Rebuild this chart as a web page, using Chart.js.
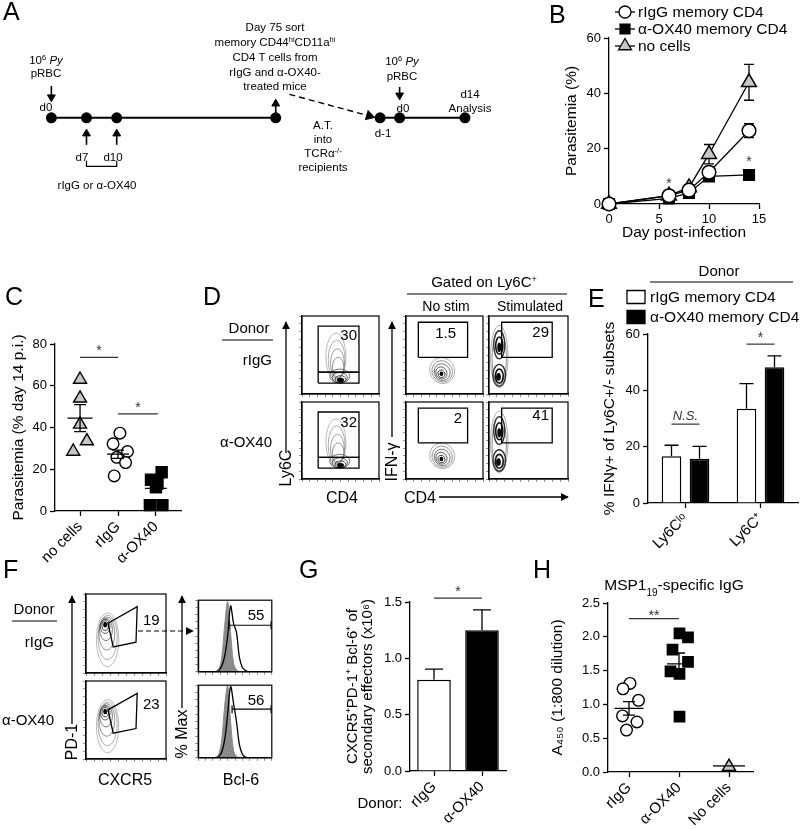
<!DOCTYPE html>
<html lang="en">
<head>
<meta charset="UTF-8">
<title>Memory CD4 T cells from α-OX40-treated mice</title>
<script src="https://cdn.jsdelivr.net/npm/chart.js"></script>
<style>
  html, body { margin: 0; padding: 0; background: #fff; }
  #fig { position: relative; width: 800px; height: 830px; overflow: hidden; background: #fff; }
  #fig canvas { position: absolute; }
  #overlay { position: absolute; left: 0; top: 0; pointer-events: none; }
  #overlay text { fill: #000; }
</style>
</head>
<body>
<div id="fig">
  <canvas id="chartA" width="530" height="200" style="left:0;top:0"></canvas>
  <canvas id="chartB" width="260" height="250" style="left:540px;top:0"></canvas>
  <canvas id="chartC" width="200" height="250" style="left:0;top:320px"></canvas>
  <canvas id="chartE" width="210" height="285" style="left:590px;top:285px"></canvas>
  <canvas id="chartG" width="190" height="250" style="left:330px;top:580px"></canvas>
  <canvas id="chartH" width="255" height="250" style="left:545px;top:580px"></canvas>

  <svg id="overlay" width="800" height="830" font-family="'Liberation Sans', Arial, sans-serif">
    <defs>
      <marker id="head" viewBox="0 0 10 10" refX="9" refY="5" markerUnits="userSpaceOnUse" markerWidth="8" markerHeight="8" orient="auto">
        <path d="M0,0 L10,5 L0,10 Z" fill="#000"/>
      </marker>
    </defs>

    <!-- panel letters -->
    <g font-size="25">
      <text x="3" y="20">A</text>
      <text x="549" y="23">B</text>
      <text x="5" y="305">C</text>
      <text x="203" y="305">D</text>
      <text x="588" y="307">E</text>
      <text x="3" y="578">F</text>
      <text x="299" y="578">G</text>
      <text x="533" y="578">H</text>
    </g>

    <!-- A: experiment outline -->
    <g font-size="11.5" text-anchor="middle">
      <text x="46" y="64">10<tspan font-size="7.5" baseline-shift="super">6</tspan> <tspan font-style="italic">Py</tspan></text>
      <text x="46" y="77">pRBC</text>
      <text x="46" y="111">d0</text>
      <text x="82" y="161">d7</text>
      <text x="113" y="161">d10</text>
      <text x="97" y="189">rIgG or α-OX40</text>
      <text x="275" y="31">Day 75 sort</text>
      <text x="275" y="46">memory CD44<tspan font-size="7.5" baseline-shift="super">hi</tspan>CD11a<tspan font-size="7.5" baseline-shift="super">hi</tspan></text>
      <text x="275" y="61">CD4 T cells from</text>
      <text x="275" y="76">rIgG and α-OX40-</text>
      <text x="275" y="90">treated mice</text>
      <text x="323" y="129">A.T.</text>
      <text x="323" y="143">into</text>
      <text x="323" y="157">TCRα<tspan font-size="7.5" baseline-shift="super">-/-</tspan></text>
      <text x="323" y="171">recipients</text>
      <text x="383" y="137">d-1</text>
      <text x="402" y="65">10<tspan font-size="7.5" baseline-shift="super">6</tspan> <tspan font-style="italic">Py</tspan></text>
      <text x="402" y="80">pRBC</text>
      <text x="403" y="112">d0</text>
      <text x="470" y="98">d14</text>
      <text x="470" y="112">Analysis</text>
    </g>

    <!-- D: labels around the flow plots -->
    <g font-size="15">
      <text x="484" y="287" text-anchor="middle">Gated on Ly6C<tspan font-size="9" baseline-shift="super">+</tspan></text>
      <line x1="407" y1="294" x2="567" y2="294" stroke="#000" stroke-width="1.2"/>
      <text x="446" y="311" text-anchor="middle" font-size="14">No stim</text>
      <text x="530" y="311" text-anchor="middle" font-size="14">Stimulated</text>
      <text x="249" y="333" text-anchor="middle">Donor</text>
      <line x1="222" y1="340" x2="273" y2="340" stroke="#000" stroke-width="1.2"/>
      <text x="272" y="365" text-anchor="end">rIgG</text>
      <text x="272" y="447" text-anchor="end">α-OX40</text>
      <line x1="286" y1="453" x2="286" y2="322" stroke="#000" stroke-width="1.3" marker-end="url(#head)"/>
      <text transform="translate(291,468) rotate(-90)" text-anchor="middle" font-size="16">Ly6C</text>
      <line x1="392" y1="437" x2="392" y2="322" stroke="#000" stroke-width="1.3" marker-end="url(#head)"/>
      <text transform="translate(397,462) rotate(-90)" text-anchor="middle" font-size="16">IFN-γ</text>
      <text x="342" y="503" text-anchor="middle" font-size="16">CD4</text>
      <text x="404" y="503" font-size="16">CD4</text>
      <line x1="439" y1="497" x2="568" y2="497" stroke="#000" stroke-width="1.3" marker-end="url(#head)"/>
      <text x="357" y="340" text-anchor="end">30</text>
      <text x="357" y="427" text-anchor="end">32</text>
      <text x="456" y="338" text-anchor="end">1.5</text>
      <text x="462" y="423" text-anchor="end">2</text>
      <text x="549" y="337" text-anchor="end">29</text>
      <text x="549" y="420" text-anchor="end">41</text>
    </g>

    <!-- E: header -->
    <g font-size="15">
      <text x="719" y="276" text-anchor="middle">Donor</text>
      <line x1="650" y1="282" x2="793" y2="282" stroke="#000" stroke-width="1.2"/>
    </g>

    <!-- F: labels around the flow plots -->
    <g font-size="15">
      <text x="34" y="614" text-anchor="middle">Donor</text>
      <line x1="12" y1="621" x2="57" y2="621" stroke="#000" stroke-width="1.2"/>
      <text x="54" y="647" text-anchor="end">rIgG</text>
      <text x="54" y="725" text-anchor="end">α-OX40</text>
      <line x1="72" y1="724" x2="72" y2="596" stroke="#000" stroke-width="1.3" marker-end="url(#head)"/>
      <text transform="translate(77,742) rotate(-90)" text-anchor="middle" font-size="16">PD-1</text>
      <line x1="182" y1="708" x2="182" y2="596" stroke="#000" stroke-width="1.3" marker-end="url(#head)"/>
      <text transform="translate(187,734) rotate(-90)" text-anchor="middle" font-size="16">% Max</text>
      <text x="125" y="785" text-anchor="middle" font-size="16">CXCR5</text>
      <text x="241" y="785" text-anchor="middle" font-size="16">Bcl-6</text>
      <text x="143" y="625">19</text>
      <text x="143" y="709">23</text>
      <text x="256" y="620" text-anchor="middle">55</text>
      <text x="256" y="705" text-anchor="middle">56</text>
      <line x1="138" y1="631" x2="193" y2="631" stroke="#000" stroke-width="1.2" stroke-dasharray="5 3" marker-end="url(#head)"/>
    </g>

    <!-- G / H extra text -->
    <text x="380" y="808" text-anchor="middle" font-size="15">Donor:</text>
    <text x="674" y="590" text-anchor="middle" font-size="15.5">MSP1<tspan font-size="10" baseline-shift="sub">19</tspan>-specific IgG</text>
  </svg>
</div>

<script>
// ---------------- data ----------------

// A: outline of the experiment (positions in schematic units)
const primingTimeline = [46, 82, 113, 276];    // d0, d7, d10, day-75 sort
const challengeTimeline = [383, 403, 470];     // d-1, d0, d14
const timelineLevel = 119;
const schemeArrows = [                          // [x, tail, tip]
  [46, 85, 100], [82, 148, 133], [113, 148, 133], [276, 114, 101], [403, 86, 98]
];
const transferArrow = [[290, 94], [372, 117]];
const treatmentBracket = [[82, 165], [82, 171], [113, 171], [113, 165]];

// B: parasitemia after challenge
const daysB = [0, 6, 8, 10, 14];
const rIgGB = [0, 3, 5, 11.5, 26.5];
const rIgGB_sem = [0, 0.5, 0.8, 1.2, 2.5];
const ox40B = [0, 2, 4, 10, 10.5];
const ox40B_sem = [0, 0.4, 0.6, 0.8, 1.5];
const noCellsB = [0, 3, 6, 18, 44];
const noCellsB_sem = [0, 0.5, 1, 3.5, 6.5];
const xTicksB = [0, 5, 10, 15];
const yTicksB = [0, 20, 40, 60];

// C: parasitemia at day 14 p.i.
const groupsC = ['no cells', 'rIgG', 'α-OX40'];
const noCellsC = [63, 54, 41.5, 33.5, 28.5];
const noCellsC_dx = [0, 0, 0, 0.18, -0.18];
const rIgGC = [37.3, 32.2, 28.5, 25.7, 23.2, 16.8];
const rIgGC_dx = [0.05, -0.13, 0.25, -0.03, 0.2, -0.1];
const ox40C = [18.6, 15, 13.2, 11.5, 2.8, 2.8];
const ox40C_dx = [0.15, -0.13, 0.04, 0, -0.16, 0.17];
const meanC = [44.5, 27.2, 10.8];
const semC = [6.5, 2, 2];
const yTicksC = [0, 20, 40, 60, 80];

// D: contour levels [x, y, rx, ry, shade, filled, tilt, width] in display units
const gateLy6Chi = [[21, 28], [74, 28], [74, 87], [21, 87], [21, 28]];
const gateLy6Clo = [[21, 14], [74, 14], [74, 28], [21, 28], [21, 14]];
const gateIFNg = [[16, 47], [80, 47], [80, 92], [16, 92], [16, 47]];
const contourLy6C = [
  [44, 48, 13, 30, '#a8a8a8'], [45, 44, 11, 25, '#999'], [46, 39, 9, 19, '#888'],
  [47, 34, 7.5, 13, '#777'], [49, 23, 13, 9, '#555'], [49, 21, 10, 6.5, '#333'],
  [50, 19, 7, 4.5, '#222'], [50, 18, 4.5, 2.8, '#000', true]
];
const contourNoStim = [
  [47, 30, 16, 17, '#999', false, -30], [47, 29, 13, 14, '#777', false, -30],
  [47, 28, 10, 11, '#555', false, -30], [46, 27, 7, 8, '#333', false, -30],
  [46, 26, 4.5, 5, '#111', false, -30], [46, 26, 2.5, 3, '#000', true]
];
const contourStim = [
  [13, 48, 11, 40, '#999'], [13, 46, 9, 35, '#777'], [13, 63, 7, 18, '#333', false, 0, 1.4],
  [13, 24, 8, 14, '#333', false, 0, 1.4], [13, 62, 4.5, 11, '#111', false, 0, 1.6],
  [13, 23, 5, 9, '#111', false, 0, 1.6], [12, 22, 3, 5, '#000', true], [13, 60, 2.5, 6, '#000', true]
];

// F: PD-1 vs CXCR5 and Bcl-6 histograms
const gateTfh = [[27.5, 63], [64, 84], [62.5, 39], [34, 33], [27.5, 63]];
const contourTfh = [
  [27, 42, 14, 34, '#aaa'], [27, 45, 12, 28, '#999'], [26, 50, 10, 21, '#777'],
  [25, 55, 8, 14, '#555'], [24, 59, 6, 9, '#333'], [24, 60, 4, 6, '#111'],
  [24, 61, 2.5, 3.5, '#000', true]
];
const binsBcl6 = [0, 16, 20, 24, 28, 32, 36, 40, 44, 48, 52, 56, 60, 64, 68, 72, 100];
const ctrlTop  = [0, 0, 0, 1, 4, 20, 65, 98, 55, 12, 3, 0, 0, 0, 0, 0, 0];
const donorTop = [0, 0, 0, 0, 2, 8, 22, 50, 92, 68, 55, 20, 6, 2, 0, 0, 0];
const ctrlBot  = [0, 0, 0, 1, 5, 25, 72, 100, 50, 10, 2, 0, 0, 0, 0, 0, 0];
const donorBot = [0, 0, 0, 0, 2, 8, 25, 60, 98, 75, 50, 18, 5, 1, 0, 0, 0];
const gateBcl6Top = [[42, 65], [99, 65]];
const gateBcl6Bot = [[46, 67], [99, 67]];
const flowTicks = [0, 10, 20, 30, 40, 50, 60, 70, 80, 90, 100];

// E: % IFN-γ+ of Ly6C subsets
const subsetsE = ['Ly6Cˡᵒ', 'Ly6C⁺'];
const rIgGE = [16.6, 33.5];
const rIgGE_sem = [3.9, 8.9];
const ox40E = [15.7, 48.2];
const ox40E_sem = [4.4, 4.0];
const yTicksE = [0, 20, 40, 60];

// G: CXCR5+PD-1+Bcl-6+ secondary effectors (x10^6)
const donorsG = ['rIgG', 'α-OX40'];
const cellsG = [0.81, 1.25];
const cellsG_sem = [0.095, 0.18];
const yTicksG = [0, 0.5, 1.0, 1.5];

// H: MSP1-19 specific IgG
const groupsH = ['rIgG', 'α-OX40', 'No cells'];
const rIgGH = [1.31, 1.23, 1.06, 0.83, 0.74, 0.62];
const rIgGH_dx = [0.02, -0.12, 0.19, -0.13, 0.16, -0.05];
const ox40H = [2.05, 1.99, 1.81, 1.63, 1.49, 1.45, 0.82];
const ox40H_dx = [0.01, 0.18, -0.13, 0.18, -0.17, 0.01, 0.01];
const noCellsH = [0.08];
const meanH = [0.94, 1.6, 0.09];
const semH = [0.1, 0.16, 0];
const yTicksH = [0, 0.5, 1.0, 1.5, 2.0, 2.5];

// ---------------- defaults ----------------
Chart.defaults.font.family = "'Liberation Sans', Arial, sans-serif";
Chart.defaults.font.size = 13;
Chart.defaults.color = '#000';
Chart.defaults.animation = false;
Chart.defaults.responsive = false;
Chart.defaults.maintainAspectRatio = false;
Chart.defaults.devicePixelRatio = 1;
Chart.defaults.events = [];
Chart.defaults.plugins.legend.display = false;
Chart.defaults.plugins.tooltip.enabled = false;

function drawMarker(ctx, style, x, y, r, fill) {
  ctx.beginPath();
  if (style === 'circle') {
    ctx.arc(x, y, r, 0, Math.PI * 2);
  } else if (style === 'rect') {
    const h = r * Math.SQRT1_2;
    ctx.rect(x - h, y - h, 2 * h, 2 * h);
  } else if (style === 'triangle') {
    ctx.moveTo(x, y - r);
    ctx.lineTo(x + r * 0.866, y + r / 2);
    ctx.lineTo(x - r * 0.866, y + r / 2);
    ctx.closePath();
  } else if (style === 'box') {
    ctx.rect(x - 9, y - 6.5, 18, 13);
  }
  ctx.fillStyle = fill;
  ctx.fill();
  ctx.stroke();
}

// error bars, mean lines, significance bars, legends, contours, frames
const marks = {
  id: 'marks',
  beforeDatasetsDraw(chart, args, o) {
    const ctx = chart.ctx;
    const xs = chart.scales.x, ys = chart.scales.y;
    ctx.save();
    (o.contours || []).forEach(c => {
      const [cx, cy, rx, ry, shade, filled, tilt, lw] = c;
      const px = xs.getPixelForValue(cx), py = ys.getPixelForValue(cy);
      const prx = Math.abs(xs.getPixelForValue(cx + rx) - px);
      const pry = Math.abs(ys.getPixelForValue(cy + ry) - py);
      ctx.beginPath();
      ctx.ellipse(px, py, prx, pry, (tilt || 0) * Math.PI / 180, 0, Math.PI * 2);
      if (filled) { ctx.fillStyle = shade; ctx.fill(); }
      else { ctx.strokeStyle = shade; ctx.lineWidth = lw || 0.8; ctx.stroke(); }
    });
    chart.data.datasets.forEach((ds, di) => {
      if (!ds.sem) return;
      chart.getDatasetMeta(di).data.forEach((el, i) => {
        const raw = ds.data[i];
        const v = typeof raw === 'object' ? raw.y : raw;
        const s = ds.sem[i];
        if (!s) return;
        const top = ys.getPixelForValue(v + s);
        const bot = ys.getPixelForValue(ds.upOnly ? v : v - s);
        const cw = o.cap || 5;
        ctx.strokeStyle = '#000';
        ctx.lineWidth = 1.3;
        ctx.beginPath();
        ctx.moveTo(el.x, bot); ctx.lineTo(el.x, top);
        ctx.moveTo(el.x - cw, top); ctx.lineTo(el.x + cw, top);
        if (!ds.upOnly) { ctx.moveTo(el.x - cw, bot); ctx.lineTo(el.x + cw, bot); }
        ctx.stroke();
      });
    });
    ctx.restore();
  },
  afterDatasetsDraw(chart, args, o) {
    const ctx = chart.ctx;
    const xs = chart.scales.x, ys = chart.scales.y;
    const a = chart.chartArea;
    ctx.save();
    ctx.strokeStyle = '#000';
    ctx.fillStyle = '#000';
    ctx.lineWidth = 1.3;
    (o.summaries || []).forEach(s => {
      const x = xs.getPixelForValue(s.x), y = ys.getPixelForValue(s.mean);
      ctx.beginPath();
      ctx.moveTo(x - s.half, y); ctx.lineTo(x + s.half, y);
      if (s.sem) {
        const t = ys.getPixelForValue(s.mean + s.sem), b = ys.getPixelForValue(s.mean - s.sem);
        ctx.moveTo(x, t); ctx.lineTo(x, b);
        ctx.moveTo(x - 6, t); ctx.lineTo(x + 6, t);
        ctx.moveTo(x - 6, b); ctx.lineTo(x + 6, b);
      }
      ctx.stroke();
    });
    const xOf = p => Array.isArray(p) ? chart.getDatasetMeta(p[0]).data[p[1]].x : xs.getPixelForValue(p);
    (o.sig || []).forEach(s => {
      const y = ys.getPixelForValue(s.y);
      const x1 = xOf(s.x1), x2 = xOf(s.x2);
      ctx.strokeStyle = s.color || '#333';
      ctx.lineWidth = 1.2;
      ctx.beginPath(); ctx.moveTo(x1, y); ctx.lineTo(x2, y); ctx.stroke();
      ctx.fillStyle = s.color || '#333';
      ctx.font = (s.italic ? 'italic ' : '') + (s.size || 14) + "px 'Liberation Sans', Arial, sans-serif";
      ctx.textAlign = 'center';
      ctx.textBaseline = 'alphabetic';
      ctx.fillText(s.text, (x1 + x2) / 2, y - (s.gap || 0) + (s.italic ? -4 : 8));
    });
    (o.stars || []).forEach(s => {
      ctx.fillStyle = '#333';
      ctx.font = "14px 'Liberation Sans', Arial, sans-serif";
      ctx.textAlign = 'center';
      ctx.textBaseline = 'alphabetic';
      ctx.fillText('*', xs.getPixelForValue(s.x), ys.getPixelForValue(s.y) + 8);
    });
    if (o.frame) {
      ctx.strokeStyle = '#000';
      ctx.lineWidth = 1.2;
      ctx.strokeRect(a.left, a.top, a.right - a.left, a.bottom - a.top);
    }
    if (o.legend) {
      const L = o.legend;
      ctx.font = L.size + "px 'Liberation Sans', Arial, sans-serif";
      ctx.textAlign = 'left';
      ctx.textBaseline = 'middle';
      L.items.forEach((it, i) => {
        const y = L.y + i * L.dy;
        ctx.strokeStyle = '#000';
        ctx.lineWidth = 1.3;
        if (it.line) {
          ctx.beginPath(); ctx.moveTo(L.x - 10, y); ctx.lineTo(L.x + 10, y); ctx.stroke();
        }
        drawMarker(ctx, it.style, L.x, y, it.r, it.fill);
        ctx.fillStyle = '#000';
        ctx.fillText(it.text, L.x + L.textGap, y + 1);
      });
    }
    ctx.restore();
  }
};
Chart.register(marks);

// axis helpers
const gridStyle = { drawOnChartArea: false, drawTicks: true, tickLength: 5, tickColor: '#000', tickWidth: 1.3, offset: false };
const borderStyle = { display: true, color: '#000', width: 1.3 };

function valueAxis(tickVals, title, width, fmt, titleFont) {
  return {
    type: 'linear',
    min: tickVals[0],
    max: tickVals[tickVals.length - 1],
    afterBuildTicks: s => { s.ticks = tickVals.map(v => ({ value: v })); },
    afterFit: s => { s.width = width; },
    grid: gridStyle,
    border: borderStyle,
    ticks: { padding: 3, font: { size: 13 }, callback: fmt || (v => v) },
    title: { display: true, text: title, font: titleFont || { size: 15.5 }, padding: 0 }
  };
}

function groupAxis(labels, min, max, height) {
  return {
    type: 'linear',
    min, max,
    afterBuildTicks: s => { s.ticks = labels.map((l, i) => ({ value: i + 1 })); },
    afterFit: s => { s.height = height; },
    grid: gridStyle,
    border: borderStyle,
    ticks: { padding: 2, font: { size: 15 }, minRotation: 45, maxRotation: 45, autoSkip: false,
             callback: (v, i) => labels[i] }
  };
}

function categoryAxis(height) {
  return {
    type: 'category',
    afterFit: s => { s.height = height; },
    grid: gridStyle,
    border: borderStyle,
    ticks: { padding: 2, font: { size: 15 }, minRotation: 45, maxRotation: 45, autoSkip: false }
  };
}

const pts = (ys, xs) => ys.map((y, i) => ({ x: xs[i], y }));
const jitter = (ys, cat, dx) => ys.map((y, i) => ({ x: cat + dx[i], y }));

// ---------------- A: outline ----------------
const arrowSets = schemeArrows.map(([x, tail, tip]) => ({
  data: [{ x, y: tail }, { x, y: tip + (tip > tail ? -3 : 3) }],
  showLine: true, borderColor: '#000', borderWidth: 1.6,
  pointStyle: 'triangle', pointRadius: [0, 4.5], pointRotation: [0, tip > tail ? 180 : 0],
  pointBackgroundColor: '#000', pointBorderColor: '#000', pointBorderWidth: 1
}));
new Chart(document.getElementById('chartA'), {
  type: 'scatter',
  data: {
    datasets: [
      { data: primingTimeline.map(x => ({ x, y: timelineLevel })), showLine: true, borderColor: '#000', borderWidth: 2,
        pointRadius: 4.5, pointBackgroundColor: '#000', pointBorderColor: '#000' },
      { data: challengeTimeline.map(x => ({ x, y: timelineLevel })), showLine: true, borderColor: '#000', borderWidth: 2,
        pointRadius: 4.5, pointBackgroundColor: '#000', pointBorderColor: '#000' },
      { data: transferArrow.map(([x, y]) => ({ x, y })), showLine: true, borderColor: '#000', borderWidth: 1.4, borderDash: [6, 4],
        pointStyle: 'triangle', pointRadius: [0, 5], pointRotation: [0, 106], pointBackgroundColor: '#000', pointBorderColor: '#000' },
      { data: treatmentBracket.map(([x, y]) => ({ x, y })), showLine: true, borderColor: '#000', borderWidth: 1.2, pointRadius: 0 },
      ...arrowSets
    ]
  },
  options: {
    layout: { padding: 0 },
    scales: {
      x: { type: 'linear', display: false, min: 0, max: 530 },
      y: { type: 'linear', display: false, min: 0, max: 200, reverse: true }
    },
    elements: { line: { tension: 0 } },
    datasets: { scatter: { clip: false } }
  }
});

// ---------------- B: parasitemia time course ----------------
const lineSet = (label, ys, sem, style, fill, r) => ({
  label, data: pts(ys, daysB), sem,
  borderColor: '#000', borderWidth: 1.3, tension: 0, clip: false,
  pointStyle: style, pointRadius: r, pointBackgroundColor: fill, pointBorderColor: '#000', pointBorderWidth: 1.5
});
new Chart(document.getElementById('chartB'), {
  type: 'line',
  data: {
    datasets: [
      lineSet('rIgG memory CD4', rIgGB, rIgGB_sem, 'circle', '#fff', 6.8),
      lineSet('α-OX40 memory CD4', ox40B, ox40B_sem, 'rect', '#000', 7.5),
      lineSet('no cells', noCellsB, noCellsB_sem, 'triangle', '#c8c8c8', 8.5)
    ]
  },
  options: {
    layout: { padding: { left: 22, right: 41, top: 38, bottom: 8 } },
    scales: {
      x: {
        type: 'linear', min: 0, max: 15,
        afterBuildTicks: s => { s.ticks = xTicksB.map(v => ({ value: v })); },
        afterFit: s => { s.height = 38; },
        grid: gridStyle, border: borderStyle,
        ticks: { padding: 3, font: { size: 13 } },
        title: { display: true, text: 'Day post-infection', font: { size: 15.5 }, padding: 0 }
      },
      y: valueAxis(yTicksB, 'Parasitemia (%)', 47)
    },
    plugins: {
      marks: {
        cap: 5,
        stars: [{ x: 6, y: 8.8 }, { x: 14, y: 16.6 }],
        legend: {
          x: 85, y: 12, dy: 17, size: 15.5, textGap: 13,
          items: [
            { text: 'rIgG memory CD4', style: 'circle', r: 6, fill: '#fff', line: true },
            { text: 'α-OX40 memory CD4', style: 'rect', r: 7, fill: '#000', line: true },
            { text: 'no cells', style: 'triangle', r: 7.5, fill: '#c8c8c8', line: true }
          ]
        }
      }
    }
  }
});

// ---------------- C: day 14 parasitemia ----------------
const dotSet = (data, style, fill, r) => ({
  data, showLine: false, clip: false,
  pointStyle: style, pointRadius: r, pointBackgroundColor: fill, pointBorderColor: '#000', pointBorderWidth: 1.4
});
new Chart(document.getElementById('chartC'), {
  type: 'scatter',
  data: {
    datasets: [
      dotSet(jitter(noCellsC, 1, noCellsC_dx), 'triangle', '#c8c8c8', 7.5),
      dotSet(jitter(rIgGC, 2, rIgGC_dx), 'circle', '#fff', 5.8),
      dotSet(jitter(ox40C, 3, ox40C_dx), 'rect', '#000', 7.8)
    ]
  },
  options: {
    layout: { padding: { left: 9, right: 19, top: 24, bottom: 0 } },
    scales: {
      x: groupAxis(groupsC, 0.34, 3.66, 59),
      y: valueAxis(yTicksC, 'Parasitemia (% day 14 p.i.)', 46)
    },
    plugins: {
      marks: {
        summaries: meanC.map((m, i) => ({ x: i + 1, mean: m, sem: semC[i], half: i === 0 ? 12.5 : 11 })),
        sig: [
          { x1: 1, x2: 2, y: 73.6, text: '*', gap: 10 },
          { x1: 2, x2: 3.05, y: 46.5, text: '*', gap: 10 }
        ]
      }
    }
  }
});

// ---------------- D / F: flow plots ----------------
function flowPlot(box, datasets, contours) {
  const [left, top, w, h] = box;
  const cv = document.createElement('canvas');
  cv.width = w + 5;
  cv.height = h + 5;
  cv.style.left = (left - 4) + 'px';
  cv.style.top = (top - 1) + 'px';
  document.getElementById('fig').insertBefore(cv, document.getElementById('overlay'));
  const ax = fit => ({
    type: 'linear', min: 0, max: 100,
    afterBuildTicks: s => { s.ticks = flowTicks.map(v => ({ value: v })); },
    afterFit: fit,
    ticks: { display: false },
    grid: { drawOnChartArea: false, drawTicks: true, tickLength: 3, tickColor: '#777', tickWidth: 0.8 },
    border: { display: true, color: '#000', width: 1.2 }
  });
  new Chart(cv, {
    type: 'line',
    data: { datasets },
    options: {
      layout: { padding: { top: 1, right: 1, left: 0, bottom: 0 } },
      scales: { x: ax(s => { s.height = 4; }), y: ax(s => { s.width = 4; }) },
      elements: { line: { tension: 0 } },
      plugins: { marks: { contours, frame: true } }
    }
  });
}
const gateSet = g => ({ data: g.map(([x, y]) => ({ x, y })), borderColor: '#000', borderWidth: 1.3, pointRadius: 0, fill: false });
const histLine = ys => ({ data: pts(ys, binsBcl6), borderColor: '#000', borderWidth: 1.3, pointRadius: 0, fill: false, tension: 0.35 });
const histFill = ys => ({ data: pts(ys, binsBcl6), borderColor: '#8a8a8a', backgroundColor: '#8a8a8a', borderWidth: 1, pointRadius: 0, fill: 'origin', tension: 0.35 });
const markerGate = g => ({ data: g.map(([x, y]) => ({ x, y })), borderColor: '#000', borderWidth: 1.2,
  pointStyle: 'line', pointRadius: 4, pointRotation: 90, pointBorderColor: '#000', pointBorderWidth: 1.2, fill: false });

// D: rows = donor (rIgG, α-OX40); columns = Ly6C/CD4, no stim, stimulated
flowPlot([302, 316, 77, 78], [gateSet(gateLy6Chi), gateSet(gateLy6Clo)], contourLy6C);
flowPlot([302, 402, 77, 77], [gateSet(gateLy6Chi), gateSet(gateLy6Clo)], contourLy6C);
flowPlot([406, 316, 77, 78], [gateSet(gateIFNg)], contourNoStim);
flowPlot([406, 402, 77, 77], [gateSet(gateIFNg)], contourNoStim);
flowPlot([489, 316, 79, 78], [gateSet(gateIFNg)], contourStim);
flowPlot([489, 402, 79, 77], [gateSet(gateIFNg)], contourStim);

// F: PD-1/CXCR5 and Bcl-6 histograms
flowPlot([86, 594, 80, 79], [gateSet(gateTfh)], contourTfh);
flowPlot([86, 681, 80, 78], [gateSet(gateTfh)], contourTfh);
flowPlot([197, 596, 79, 77], [markerGate(gateBcl6Top), histLine(donorTop), histFill(ctrlTop)], []);
flowPlot([197, 681, 79, 78], [markerGate(gateBcl6Bot), histLine(donorBot), histFill(ctrlBot)], []);

// ---------------- E: IFN-γ+ bars ----------------
new Chart(document.getElementById('chartE'), {
  type: 'bar',
  data: {
    labels: subsetsE,
    datasets: [
      { label: 'rIgG memory CD4', data: rIgGE, sem: rIgGE_sem, upOnly: true, backgroundColor: '#fff', borderColor: '#000', borderWidth: 1.5 },
      { label: 'α-OX40 memory CD4', data: ox40E, sem: ox40E_sem, upOnly: true, backgroundColor: '#000', borderColor: '#000', borderWidth: 1.5 }
    ]
  },
  options: {
    categoryPercentage: 0.747,
    barPercentage: 0.7,
    layout: { padding: { left: 10, right: 2, top: 49, bottom: 0 } },
    scales: {
      x: categoryAxis(67),
      y: valueAxis(yTicksE, '% IFNγ+ of Ly6C+/- subsets', 48)
    },
    plugins: {
      marks: {
        cap: 7,
        sig: [
          { x1: [0, 0], x2: [1, 0], y: 28, text: 'N.S.', italic: true, size: 13 },
          { x1: [0, 1], x2: [1, 1], y: 56.4, text: '*', gap: 10 }
        ],
        legend: {
          x: 46, y: 12, dy: 20, size: 15.5, textGap: 14,
          items: [
            { text: 'rIgG memory CD4', style: 'box', fill: '#fff' },
            { text: 'α-OX40 memory CD4', style: 'box', fill: '#000' }
          ]
        }
      }
    }
  }
});

// ---------------- G: secondary Tfh effectors ----------------
new Chart(document.getElementById('chartG'), {
  type: 'bar',
  data: {
    labels: donorsG,
    datasets: [
      { data: cellsG, sem: cellsG_sem, upOnly: true, backgroundColor: ['#fff', '#000'], borderColor: '#000', borderWidth: 1.5 }
    ]
  },
  options: {
    categoryPercentage: 0.7,
    barPercentage: 1,
    layout: { padding: { left: 15.5, right: 14, top: 22, bottom: 0 } },
    scales: {
      x: categoryAxis(59),
      y: valueAxis(yTicksG, ['CXCR5⁺PD-1⁺ Bcl-6⁺ of', 'secondary effectors (x10⁶)'], 64.5,
                   v => v.toFixed(1), { size: 15, lineHeight: 1.0 })
    },
    plugins: {
      marks: {
        cap: 9,
        sig: [{ x1: [0, 0], x2: [0, 1], y: 1.535, text: '*', gap: 10 }]
      }
    }
  }
});

// ---------------- H: MSP1-19 IgG ----------------
new Chart(document.getElementById('chartH'), {
  type: 'scatter',
  data: {
    datasets: [
      dotSet(jitter(rIgGH, 1, rIgGH_dx), 'circle', '#fff', 5.8),
      dotSet(jitter(ox40H, 2, ox40H_dx), 'rect', '#000', 7.3),
      dotSet(jitter(noCellsH, 3, [0]), 'triangle', '#c8c8c8', 7.5)
    ]
  },
  options: {
    layout: { padding: { left: 3.5, right: 47, top: 23, bottom: 0 } },
    scales: {
      x: groupAxis(groupsH, 0.58, 3.48, 58),
      y: valueAxis(yTicksH, 'A₄₅₀ (1:800 dilution)', 59.5, v => v.toFixed(1))
    },
    plugins: {
      marks: {
        summaries: meanH.map((m, i) => ({ x: i + 1, mean: m, sem: semH[i], half: [14.5, 12, 16][i] })),
        sig: [{ x1: 1, x2: 2, y: 2.27, text: '**', gap: 7 }]
      }
    }
  }
});
</script>
</body>
</html>
